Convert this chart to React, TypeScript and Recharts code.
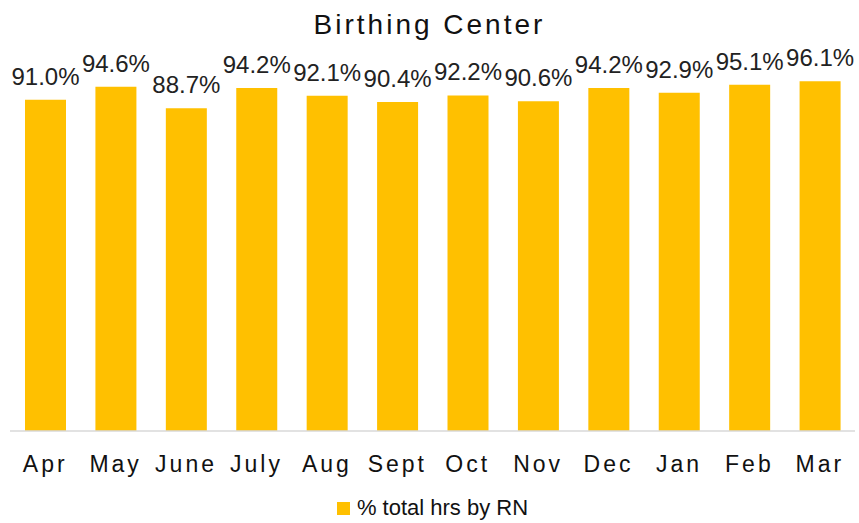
import React from 'react';
import { BarChart, Bar, XAxis, YAxis, Legend, LabelList } from 'recharts';

const months = ['Apr', 'May', 'June', 'July', 'Aug', 'Sept', 'Oct', 'Nov', 'Dec', 'Jan', 'Feb', 'Mar'];
const rnShare = [91.0, 94.6, 88.7, 94.2, 92.1, 90.4, 92.2, 90.6, 94.2, 92.9, 95.1, 96.1];

const data = months.map((month, i) => ({ month, value: rnShare[i] }));

const FONT = '"Liberation Sans", Arial, sans-serif';
const GOLD = '#FFC000';

const MonthTick = ({ x, y, payload }: any) => (
  <text
    x={x}
    y={y + 33}
    textAnchor="middle"
    fontFamily={FONT}
    fontSize={23}
    letterSpacing={3}
    fill="#111"
  >
    {payload.value}
  </text>
);

const ValueLabel = ({ x, y, width, value }: any) => (
  <text
    x={x + width / 2}
    y={y - 15}
    textAnchor="middle"
    fontFamily={FONT}
    fontSize={24}
    fill="#222"
  >
    {Number(value).toFixed(1)}%
  </text>
);

const LegendBox = () => (
  <div
    style={{
      height: 30,
      display: 'flex',
      alignItems: 'center',
      justifyContent: 'center',
      fontFamily: FONT,
      fontSize: 22,
      color: '#111',
    }}
  >
    <span style={{ width: 13, height: 13, background: GOLD, marginRight: 7, display: 'inline-block' }} />
    % total hrs by RN
  </div>
);

export default function App() {
  return (
    <div style={{ position: 'absolute', left: 0, top: 0, width: 859, height: 523, background: '#fff' }}>
      <div
        style={{
          position: 'absolute',
          top: 9,
          left: 0,
          width: 859,
          textAlign: 'center',
          fontFamily: FONT,
          fontSize: 28,
          letterSpacing: 3,
          color: '#111',
          zIndex: 1,
        }}
      >
        Birthing Center
      </div>
      <BarChart width={859} height={523} data={data} margin={{ top: 67, right: 4, left: 10, bottom: 0 }}>
        <XAxis
          dataKey="month"
          axisLine={{ stroke: '#d9d9d9', strokeWidth: 1.5 }}
          tickLine={false}
          height={62}
          tick={<MonthTick />}
          interval={0}
        />
        <YAxis hide domain={[0, 100]} />
        <Legend verticalAlign="bottom" content={<LegendBox />} />
        <Bar dataKey="value" name="% total hrs by RN" fill={GOLD} barSize={41} isAnimationActive={false}>
          <LabelList dataKey="value" content={<ValueLabel />} />
        </Bar>
      </BarChart>
    </div>
  );
}
